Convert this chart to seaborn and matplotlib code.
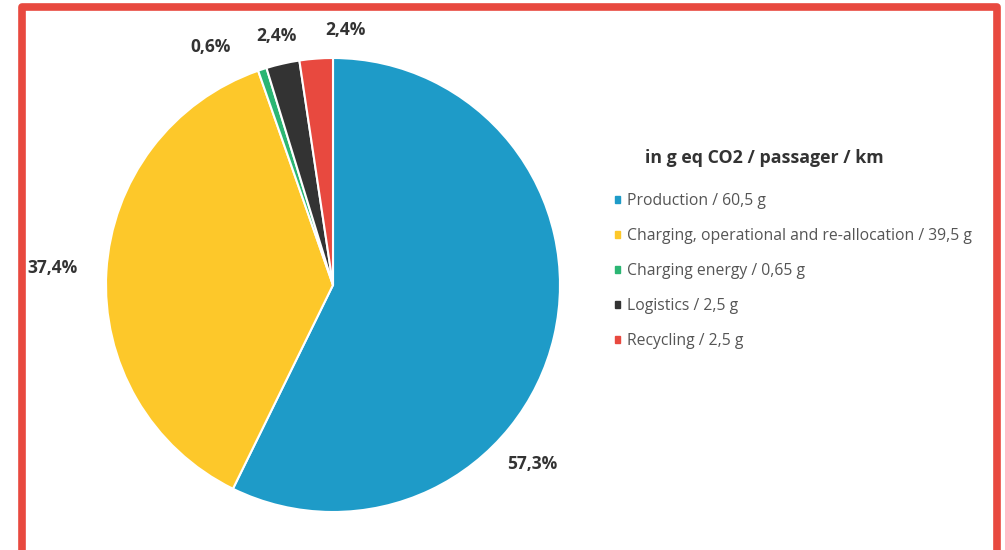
import numpy as np
import matplotlib
matplotlib.use("Agg")
import matplotlib.pyplot as plt
import matplotlib.patches as mpatches
import seaborn as sns

# data
categories = ["Production", "Charging, operational and re-allocation",
              "Charging energy", "Logistics", "Recycling"]
values_g = [60.5, 39.5, 0.65, 2.5, 2.5]
value_labels = ["60,5", "39,5", "0,65", "2,5", "2,5"]
legend_title = "in g eq CO2 / passager / km"

colors = sns.color_palette(["#1E9BC8", "#FDC82A", "#2BB673", "#333333", "#E8493F"])

# label placement tweaks (angle shift in degrees, radial distance)
label_shift = [-29, 0, 9, 0, -7]
label_dist = [1.18, 1.24, 1.18, 1.125, 1.125]

sns.set_theme(style="white")
plt.rcParams["font.family"] = ["Open Sans", "DejaVu Sans"]

fig = plt.figure(figsize=(10.05, 5.5), dpi=100)
ax = fig.add_axes([106 / 1005, 38 / 550, 454 / 1005, 454 / 550])

wedges, _ = ax.pie(values_g, colors=colors, startangle=90, counterclock=False,
                   radius=1, wedgeprops=dict(edgecolor="white", linewidth=1.5))
ax.set_xlim(-1, 1)
ax.set_ylim(-1, 1)
ax.set_aspect("equal")
ax.axis("off")

total = sum(values_g)
for w, v, sh, d in zip(wedges, values_g, label_shift, label_dist):
    ang = np.deg2rad((w.theta1 + w.theta2) / 2 + sh)
    pct = f"{100 * v / total:.1f}%".replace(".", ",")
    ax.text(d * np.cos(ang), d * np.sin(ang), pct, ha="center", va="center",
            fontsize=12.5, fontweight="bold", color="#333333", clip_on=False)

# legend
handles = [mpatches.Patch(color=c) for c in colors]
labels = [f"{c} / {v} g" for c, v in zip(categories, value_labels)]
fig.legend(handles, labels, loc="upper left", bbox_to_anchor=(601 / 1005, 1 - 179 / 550),
           frameon=False, fontsize=11.3, handlelength=0.33, handleheight=0.33,
           handletextpad=0.45, labelspacing=1.21, labelcolor="#555555")
fig.text(645 / 1005, 1 - 158 / 550, legend_title, fontsize=12.8, fontweight="bold",
         color="#333333", va="center", ha="left")

# red frame
frame = mpatches.Rectangle((22 / 1005, -0.003), (996.5 - 22) / 1005, 0.9894,
                           transform=fig.transFigure, fill=False,
                           edgecolor="#E8493F", linewidth=5.5, joinstyle="round")
fig.patches.append(frame)

fig.savefig("out.png", dpi=100, facecolor="white")
